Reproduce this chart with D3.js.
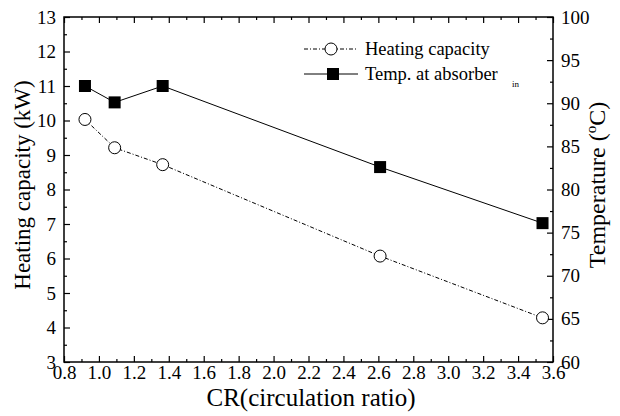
<!DOCTYPE html>
<html>
<head>
<meta charset="utf-8">
<script src="https://cdn.jsdelivr.net/npm/d3@7/dist/d3.min.js"></script>
<style>
  body { margin: 0; background: #fff; }
  svg text { font-family: "Liberation Serif", "Times New Roman", serif; fill: #000; }
</style>
</head>
<body>
<svg id="chart"></svg>
<script>
const width = 620, height = 416;
const margin = { top: 17, right: 67, bottom: 54, left: 64 };

// data
const crValues = [0.92, 1.09, 1.365, 2.61, 3.54];
const heatingCapacity = [10.03, 9.21, 8.72, 6.07, 4.28];
const absorberTemp = [92.0, 90.1, 92.0, 82.6, 76.1];
const xTicks = [0.8, 1.0, 1.2, 1.4, 1.6, 1.8, 2.0, 2.2, 2.4, 2.6, 2.8, 3.0, 3.2, 3.4, 3.6];
const leftTicks = [3, 4, 5, 6, 7, 8, 9, 10, 11, 12, 13];
const rightTicks = [60, 65, 70, 75, 80, 85, 90, 95, 100];

const svg = d3.select("#chart").attr("width", width).attr("height", height);

const x = d3.scaleLinear().domain([0.8, 3.6]).range([margin.left, width - margin.right]);
const yL = d3.scaleLinear().domain([3, 13]).range([height - margin.bottom, margin.top]);
const yR = d3.scaleLinear().domain([60, 100]).range([height - margin.bottom, margin.top]);

const x0 = margin.left, x1 = width - margin.right;
const y0 = height - margin.bottom, y1 = margin.top;

function ticks(axis, major, pad) {
    return g => {
        g.call(axis.tickValues(major).tickSize(-6).tickPadding(pad).tickSizeOuter(0));
        g.attr("font-family", null).attr("font-size", null);
        g.select(".domain").remove();
        g.selectAll(".tick text").style("font-size", "19px");
    };
}

// bottom
svg.append("g").attr("transform", `translate(0,${y0})`)
    .call(ticks(d3.axisBottom(x), xTicks, 4));
svg.append("g").attr("transform", `translate(0,${y0})`)
    .call(d3.axisBottom(x).tickValues(d3.range(0.9, 3.6, 0.2)).tickSize(-3).tickFormat(""))
    .select(".domain").remove();
// top
svg.append("g").attr("transform", `translate(0,${y1})`)
    .call(d3.axisTop(x).tickValues(xTicks).tickSize(-6).tickFormat(""))
    .select(".domain").remove();
svg.append("g").attr("transform", `translate(0,${y1})`)
    .call(d3.axisTop(x).tickValues(d3.range(0.9, 3.6, 0.2)).tickSize(-3).tickFormat(""))
    .select(".domain").remove();
// left
svg.append("g").attr("transform", `translate(${x0},0)`)
    .call(ticks(d3.axisLeft(yL), leftTicks, 8));
svg.append("g").attr("transform", `translate(${x0},0)`)
    .call(d3.axisLeft(yL).tickValues(d3.range(3.5, 13, 1)).tickSize(-3).tickFormat(""))
    .select(".domain").remove();
// right
svg.append("g").attr("transform", `translate(${x1},0)`)
    .call(ticks(d3.axisRight(yR), rightTicks, 8));
svg.append("g").attr("transform", `translate(${x1},0)`)
    .call(d3.axisRight(yR).tickValues(d3.range(62.5, 100, 5)).tickSize(-3).tickFormat(""))
    .select(".domain").remove();

svg.selectAll(".tick line").attr("stroke", "#000").attr("stroke-width", 1.2);

// frame
svg.append("rect")
    .attr("x", x0).attr("y", y1)
    .attr("width", x1 - x0).attr("height", y0 - y1)
    .attr("fill", "none").attr("stroke", "#000").attr("stroke-width", 1.5);

// heating capacity series
svg.append("path")
    .datum(crValues.map((c, i) => [c, heatingCapacity[i]]))
    .attr("fill", "none").attr("stroke", "#000").attr("stroke-width", 1)
    .attr("stroke-dasharray", "4,2,1,2")
    .attr("d", d3.line().x(d => x(d[0])).y(d => yL(d[1])));
svg.selectAll(".circ").data(crValues).join("circle")
    .attr("cx", d => x(d)).attr("cy", (d, i) => yL(heatingCapacity[i]))
    .attr("r", 6).attr("fill", "#fff").attr("stroke", "#000").attr("stroke-width", 1);

// temperature series
svg.append("path")
    .datum(crValues.map((c, i) => [c, absorberTemp[i]]))
    .attr("fill", "none").attr("stroke", "#000").attr("stroke-width", 1)
    .attr("d", d3.line().x(d => x(d[0])).y(d => yR(d[1])));
svg.selectAll(".sq").data(crValues).join("rect")
    .attr("x", d => x(d) - 6).attr("y", (d, i) => yR(absorberTemp[i]) - 6)
    .attr("width", 12).attr("height", 12).attr("fill", "#000");

// legend
const lg = svg.append("g");
lg.append("line").attr("x1", 304).attr("x2", 358).attr("y1", 49).attr("y2", 49)
    .attr("stroke", "#000").attr("stroke-dasharray", "4,2,1,2");
lg.append("circle").attr("cx", 331).attr("cy", 49).attr("r", 6)
    .attr("fill", "#fff").attr("stroke", "#000");
lg.append("text").attr("x", 365).attr("y", 55).style("font-size", "18.5px").text("Heating capacity");
lg.append("line").attr("x1", 304).attr("x2", 358).attr("y1", 74).attr("y2", 74)
    .attr("stroke", "#000");
lg.append("rect").attr("x", 327).attr("y", 68).attr("width", 12).attr("height", 12).attr("fill", "#000");
lg.append("text").attr("x", 365).attr("y", 80).style("font-size", "18.5px").text("Temp. at absorber");
lg.append("text").attr("x", 512).attr("y", 87).style("font-size", "9px").text("in");

// axis titles
svg.append("text").attr("x", 311).attr("y", 406)
    .attr("text-anchor", "middle").style("font-size", "25px").text("CR(circulation ratio)");
svg.append("text").attr("transform", "translate(30,185) rotate(-90)")
    .attr("text-anchor", "middle").style("font-size", "23px").text("Heating capacity (kW)");
const rt = svg.append("text").attr("transform", "translate(605,185) rotate(-90)")
    .attr("text-anchor", "middle").style("font-size", "24px");
rt.append("tspan").text("Temperature (");
rt.append("tspan").attr("dy", -9).style("font-size", "15px").text("o");
rt.append("tspan").attr("dy", 9).text("C)");
</script>
</body>
</html>
